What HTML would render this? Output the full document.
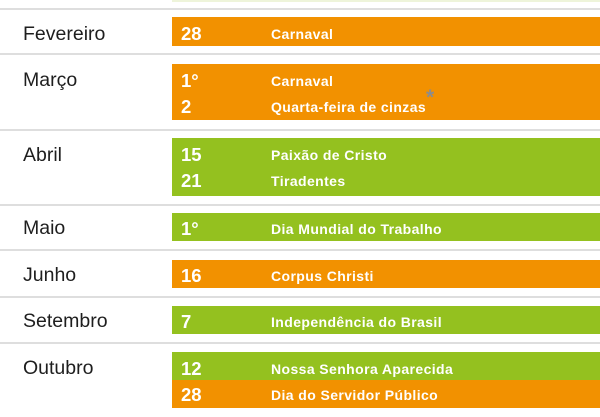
<!DOCTYPE html>
<html>
<head>
<meta charset="utf-8">
<style>
  html, body { margin:0; padding:0; }
  body { width:600px; height:417px; position:relative; overflow:hidden; background:#ffffff;
         font-family:"Liberation Sans", sans-serif; }
  .sep { position:absolute; left:0; width:600px; height:2px; background:#dedede; }
  .box { position:absolute; left:172px; width:428px; }
  .or { background:#f29100; }
  .gr { background:#94c11f; }
  .m { position:absolute; left:23px; font-size:19.5px; line-height:20px; color:#1e1e1e; white-space:nowrap; }
  .ln { position:absolute; left:181px; height:26px; line-height:26px; font-size:18.5px; font-weight:bold; color:#fff; white-space:nowrap; }
  .ln .n { position:absolute; left:90px; top:0; font-size:14px; letter-spacing:0.4px; }
  .star { position:absolute; left:426px; top:88px; font-size:21px; color:#8c8c8c; font-weight:bold; line-height:20px; }
</style>
</head>
<body>
  <div style="position:absolute;left:172px;top:0;width:428px;height:2px;background:#eef4da;"></div>

  <div class="sep" style="top:8px"></div>
  <div class="sep" style="top:53px"></div>
  <div class="sep" style="top:129px"></div>
  <div class="sep" style="top:204px"></div>
  <div class="sep" style="top:249px"></div>
  <div class="sep" style="top:296px"></div>
  <div class="sep" style="top:342px"></div>

  <!-- boxes -->
  <div class="box or" style="top:17px;height:29px"></div>
  <div class="box or" style="top:64px;height:56px"></div>
  <div class="box gr" style="top:138px;height:58px"></div>
  <div class="box gr" style="top:213px;height:28px"></div>
  <div class="box or" style="top:260px;height:28px"></div>
  <div class="box gr" style="top:306px;height:28px"></div>
  <div class="box gr" style="top:352px;height:28px"></div>
  <div class="box or" style="top:380px;height:28px"></div>

  <!-- month labels -->
  <div class="m" style="top:24px">Fevereiro</div>
  <div class="m" style="top:70px">Março</div>
  <div class="m" style="top:145px">Abril</div>
  <div class="m" style="top:218px">Maio</div>
  <div class="m" style="top:265px">Junho</div>
  <div class="m" style="top:311px">Setembro</div>
  <div class="m" style="top:358px">Outubro</div>

  <!-- lines -->
  <div class="ln" style="top:21px">28<span class="n">Carnaval</span></div>
  <div class="ln" style="top:68px">1°<span class="n">Carnaval</span></div>
  <div class="ln" style="top:94px">2<span class="n">Quarta-feira de cinzas</span></div>
  <div class="star">*</div>
  <div class="ln" style="top:142px">15<span class="n">Paixão de Cristo</span></div>
  <div class="ln" style="top:168px">21<span class="n">Tiradentes</span></div>
  <div class="ln" style="top:216px">1°<span class="n">Dia Mundial do Trabalho</span></div>
  <div class="ln" style="top:263px">16<span class="n">Corpus Christi</span></div>
  <div class="ln" style="top:309px">7<span class="n">Independência do Brasil</span></div>
  <div class="ln" style="top:356px">12<span class="n">Nossa Senhora Aparecida</span></div>
  <div class="ln" style="top:382px">28<span class="n">Dia do Servidor Público</span></div>
</body>
</html>
